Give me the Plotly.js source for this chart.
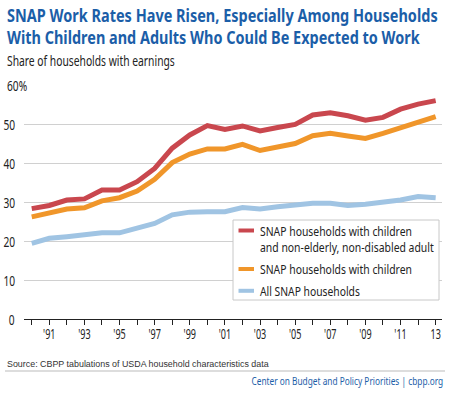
<!DOCTYPE html>
<html>
<head>
<meta charset="utf-8">
<script src="https://cdn.plot.ly/plotly-3.0.1.min.js"></script>
<style>html,body{margin:0;padding:0;background:#fff;}#chart{width:450px;height:396px;}</style>
</head>
<body>
<div id="chart"></div>
<script>
var years = [1990,1991,1992,1993,1994,1995,1996,1997,1998,1999,2000,2001,2002,2003,2004,2005,2006,2007,2008,2009,2010,2011,2012,2013];
var redValues = [28.3,29.1,30.5,30.8,33.1,33.1,35.2,38.6,43.8,47.2,49.6,48.6,49.5,48.2,49.1,49.9,52.3,52.9,52.1,51.0,51.7,53.8,55.1,56.0];
var orangeValues = [26.2,27.2,28.2,28.5,30.3,31.1,32.8,35.8,40.1,42.3,43.6,43.6,44.8,43.2,44.2,45.0,47.0,47.6,46.9,46.3,47.6,49.1,50.6,51.9];
var blueValues = [19.4,20.7,21.1,21.5,22.1,22.1,23.2,24.5,26.7,27.4,27.5,27.5,28.6,28.2,28.8,29.3,29.7,29.7,29.1,29.4,29.9,30.5,31.4,31.1];
var seriesNames = ["SNAP households with children<br>and non-elderly, non-disabled adult","SNAP households with children","All SNAP households"];
var xTickVals = [1991,1993,1995,1997,1999,2001,2003,2005,2007,2009,2011,2013];
var xTickText = ["'91","'93","'95","'97","'99","'01","'03","'05","'07","'09","'11","13"];
var yTickVals = [0,10,20,30,40,50,60];
var yTickText = ["0","10","20","30","40","50","60%"];

var F = "'Noto Sans','DejaVu Sans',sans-serif";
var colors = ["#c9474e","#f0962a","#a0c4e3"];
var vals = [redValues, orangeValues, blueValues];
var traces = vals.map(function(v,i){
  return {x: years, y: v, type:'scatter', mode:'lines', name: seriesNames[i],
    line:{color: colors[i], width:5}, hoverinfo:'skip', showlegend:false};
});

// pixel helpers (plot area: x 24..442, y 85..319)
function px(X){ return (X-24)/418; }
function py(Y){ return (319-Y)/234; }

var annotations = [];
var fitWidths = [];
function addText(text, X, Y, anchor, size, color, weight, width, family){
  annotations.push({text:text, xref:'paper', yref:'paper', x:px(X), y:py(Y), xanchor:anchor, align:anchor, yanchor:'middle',
    showarrow:false, font:{family:family||F, size:size, color:color, weight:weight||'normal'}});
  fitWidths.push(width);
}
addText("SNAP Work Rates Have Risen, Especially Among Households", 5, 15, 'left', 18, '#1b5ea8', 'bold', 431);
addText("With Children and Adults Who Could Be Expected to Work", 5, 36.5, 'left', 18, '#1b5ea8', 'bold', 413);
addText("Share of households with earnings", 5, 61, 'left', 14, '#222', 'normal', 168);
addText("Source: CBPP tabulations of USDA household characteristics data", 5, 363.5, 'left', 9, '#333', 'normal', 262, "'Liberation Sans',Arial,sans-serif");
addText("Center on Budget and Policy Priorities | cbpp.org", 445, 380, 'right', 11, '#1b5ea8', 'normal', 192);

// legend built from series names and colours
var legendLines = [], legendLineY = [230.5, 246.5, 269, 290.5], legendWidths = [152,174,152,100];
seriesNames.forEach(function(n){ n.split('<br>').forEach(function(s){ legendLines.push(s); }); });
legendLines.forEach(function(s,i){ addText(s, 258, legendLineY[i], 'left', 13, '#222', 'normal', legendWidths[i]); });
var swatchY = [230.5, 269, 290.8];
var shapes = [
  {type:'rect', xref:'paper', yref:'paper', x0:px(233), x1:px(439), y0:py(220), y1:py(300), fillcolor:'#fff', line:{color:'#c8c8c8', width:1}, layer:'above'}
];
colors.forEach(function(c,i){
  shapes.push({type:'line', xref:'paper', yref:'paper', x0:px(238.5), x1:px(254), y0:py(swatchY[i]), y1:py(swatchY[i]), line:{color:c, width:4}, layer:'above'});
});
shapes.push({type:'line', xref:'paper', yref:'paper', x0:px(5), x1:px(445), y0:py(371), y1:py(371), line:{color:'#bbb', width:1}});

var yLabelStart = annotations.length;
yTickVals.forEach(function(v,i){
  var pct = yTickText[i].indexOf('%')>=0;
  annotations.push({text: yTickText[i], xref:'paper', yref:'y', x: pct ? px(5) : px(17), y:v, xanchor: pct?'left':'right', align: pct?'left':'right', yanchor:'middle',
    showarrow:false, font:{family:F, size:15, color:'#222'}, bgcolor:'#fff', borderpad:1});
  fitWidths.push(null);
});

var layout = {
  width:450, height:396,
  margin:{l:24, r:8, t:85, b:77},
  paper_bgcolor:'#fff', plot_bgcolor:'#fff',
  showlegend:false,
  xaxis:{range:[1989.56,2013.36], tickmode:'array', tickvals:years, ticktext:years.map(function(y){var k=xTickVals.indexOf(y);return k>=0?xTickText[k]:'';}),
    ticks:'outside', ticklen:5, tickcolor:'#222', showline:true, linecolor:'#222', linewidth:1, showgrid:false, zeroline:false,
    tickfont:{family:F, size:15, color:'#222'}, fixedrange:true},
  yaxis:{range:[0,60], tickmode:'array', tickvals:yTickVals, showticklabels:false, showgrid:true, gridcolor:'#d0d0d0', gridwidth:1, zeroline:false, fixedrange:true},
  annotations: annotations,
  shapes: shapes
};

// condense a text horizontally around its own anchor point
function squeeze(t, f, dy){
  var x = parseFloat(t.getAttribute('x')) || 0;
  var tr = t.getAttribute('transform') || '';
  t.setAttribute('transform', tr + ' translate(' + x + ',' + (dy||0) + ') scale(' + f + ',1) translate(' + (-x) + ',0)');
}

Plotly.newPlot('chart', traces, layout, {displayModeBar:false, staticPlot:true}).then(function(gd){
  var anns = gd.querySelectorAll('.annotation');
  anns.forEach(function(a, i){
    var t = a.querySelector('text.annotation-text');
    if(!t) return;
    if(fitWidths[i]){ squeeze(t, fitWidths[i] / t.getComputedTextLength()); }
  });
  var ref = anns[yLabelStart+5] && anns[yLabelStart+5].querySelector('text.annotation-text');
  if(ref){
    var yFactor = 11.7 / ref.getComputedTextLength();
    for(var k=yLabelStart;k<anns.length;k++){
      var tt = anns[k].querySelector('text.annotation-text');
      if(tt) squeeze(tt, yFactor);
    }
  }
  var xt = gd.querySelectorAll('.xtick text');
  var xf = null;
  xt.forEach(function(t){ if(!xf && t.textContent.length===3){ xf = 12.4 / t.getComputedTextLength(); } });
  xt.forEach(function(t){ if(t.textContent.length) squeeze(t, xf, -4); });
});
</script>
</body>
</html>
